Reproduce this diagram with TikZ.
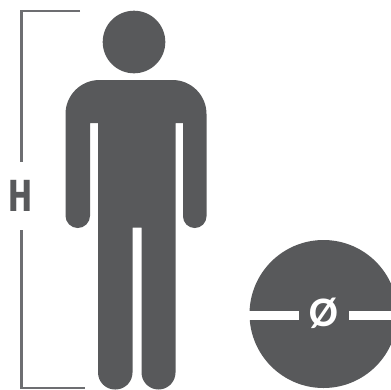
\documentclass[tikz,border=0pt]{standalone}
\usepackage{fontspec}
\setmainfont{Fira Sans}
\newfontfamily\markfont{Carlito}
\usepackage{xcolor}
\definecolor{figuregray}{HTML}{58595B}
\definecolor{bracketgray}{HTML}{6D6E71}

\begin{document}
\begin{tikzpicture}[x=1pt,y=-1pt]

        \tikzset{
            figure/.style={fill=figuregray},
            bracket/.style={draw=bracketgray, line width=2.3pt},
            gaugetext/.style={inner sep=0pt}
        }

        % 1. Fix the page and the ends of the height bracket
        \useasboundingbox (0,0) rectangle (391,389);
        \clip (0,0) rectangle (391,389);

        \coordinate (TopEnd) at (80,11);
        \coordinate (TopCorner) at (21.5,11);
        \coordinate (TopGap) at (21.5,162);
        \coordinate (LowGap) at (21.5,230);
        \coordinate (LowCorner) at (21.5,388);
        \coordinate (LowEnd) at (85,388);

        % 2. Height bracket and its letter
        \draw[bracket] (TopEnd) -- (TopCorner) -- (TopGap);
        \draw[bracket] (LowGap) -- (LowCorner) -- (LowEnd);
        \node[gaugetext, text=figuregray, xscale=.8, font=\bfseries\fontsize{45}{45}\selectfont] (height) at (20.5,196) {H};

        % 3. Person: head, then body in one outline
        \fill[figure] (134,42) circle (31.3);
        \fill[figure] (98,123) -- (90,123)
            [rounded corners=12.2pt] -- (90,228) -- (65.5,228)
            [rounded corners=34pt] -- (65.5,80) -- (206.5,80)
            [rounded corners=11.7pt] -- (206.5,228) -- (183,228)
            [sharp corners] -- (183,123) -- (175.5,123)
            [rounded corners=17pt] -- (175.5,389.5) -- (141.5,389.5)
            [sharp corners] -- (141.5,227.5) -- (132.5,227.5)
            [rounded corners=17pt] -- (132.5,389.5) -- (98,389.5)
            [sharp corners] -- cycle;

        % 4. Disc with its diameter mark
        \fill[figure] (323.5,314) circle (74);
        \fill[white] (240,311) rectangle (298.5,320);
        \fill[white] (349,311) rectangle (395,320);
        \node[gaugetext, text=white, font=\markfont\bfseries\fontsize{42}{42}\selectfont] (diameter) at (324,313) {Ø};

\end{tikzpicture}
\end{document}
